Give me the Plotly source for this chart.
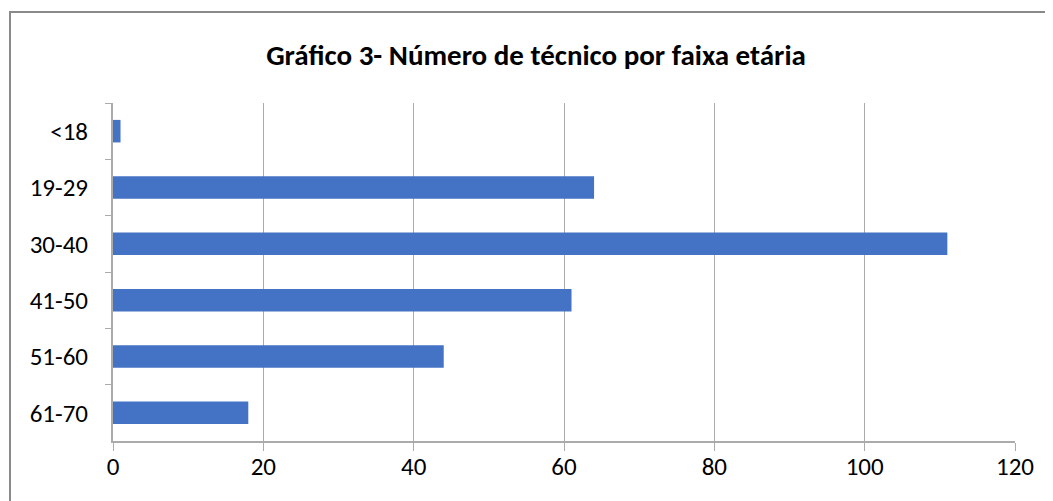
import plotly.graph_objects as go

categories = ["<18", "19-29", "30-40", "41-50", "51-60", "61-70"]
values = [1, 64, 111, 61, 44, 18]
x_ticks = [0, 20, 40, 60, 80, 100, 120]
title_text = "Gráfico 3- Número de técnico por faixa etária"

FONT = "Carlito, Calibri, Lato, sans-serif"
GRID = "#ababab"

# page body has an 8px margin, so the figure sits at (8, 8)
W, H = 1045, 493
L, R, T, B = 105, 38, 95, 60
PW, PH = W - L - R, H - T - B

fig = go.Figure(
    go.Bar(
        x=values,
        y=categories,
        orientation="h",
        marker=dict(color="#4472C4", line=dict(width=0)),
        hoverinfo="x+y",
    )
)

fig.update_layout(
    width=W,
    height=H,
    paper_bgcolor="white",
    plot_bgcolor="white",
    margin=dict(l=L, r=R, t=T, b=B, autoexpand=False),
    bargap=0.6,
    showlegend=False,
    title=dict(
        text="<b>" + title_text + "</b>",
        x=(536 - 8 - L) / PW,
        xanchor="center",
        xref="paper",
        y=1 - 47 / H,
        yref="container",
        yanchor="middle",
        font=dict(family=FONT, size=29, color="black"),
    ),
    font=dict(family=FONT, size=25, color="black"),
    shapes=[
        dict(
            type="rect",
            xref="paper",
            yref="paper",
            x0=(2 - L) / PW,
            x1=1.3,
            y0=-0.5,
            y1=1 + (T - 4) / PH,
            line=dict(color="#8a8a8a", width=2),
            fillcolor="rgba(0,0,0,0)",
            layer="below",
        )
    ],
)

fig.update_xaxes(
    range=[0, 120],
    tickvals=x_ticks,
    ticktext=[str(v) for v in x_ticks],
    showgrid=True,
    gridcolor=GRID,
    gridwidth=1,
    showline=True,
    linecolor=GRID,
    linewidth=2,
    ticks="outside",
    ticklen=8,
    tickcolor=GRID,
    ticklabelstandoff=-6,
    zeroline=False,
    fixedrange=True,
)

fig.update_yaxes(
    categoryorder="array",
    categoryarray=categories,
    autorange="reversed",
    showgrid=False,
    showline=True,
    linecolor=GRID,
    linewidth=2,
    ticks="outside",
    tickson="boundaries",
    ticklen=6,
    tickcolor=GRID,
    ticklabelstandoff=18,
    zeroline=False,
    fixedrange=True,
)

fig.write_html("out.html")
